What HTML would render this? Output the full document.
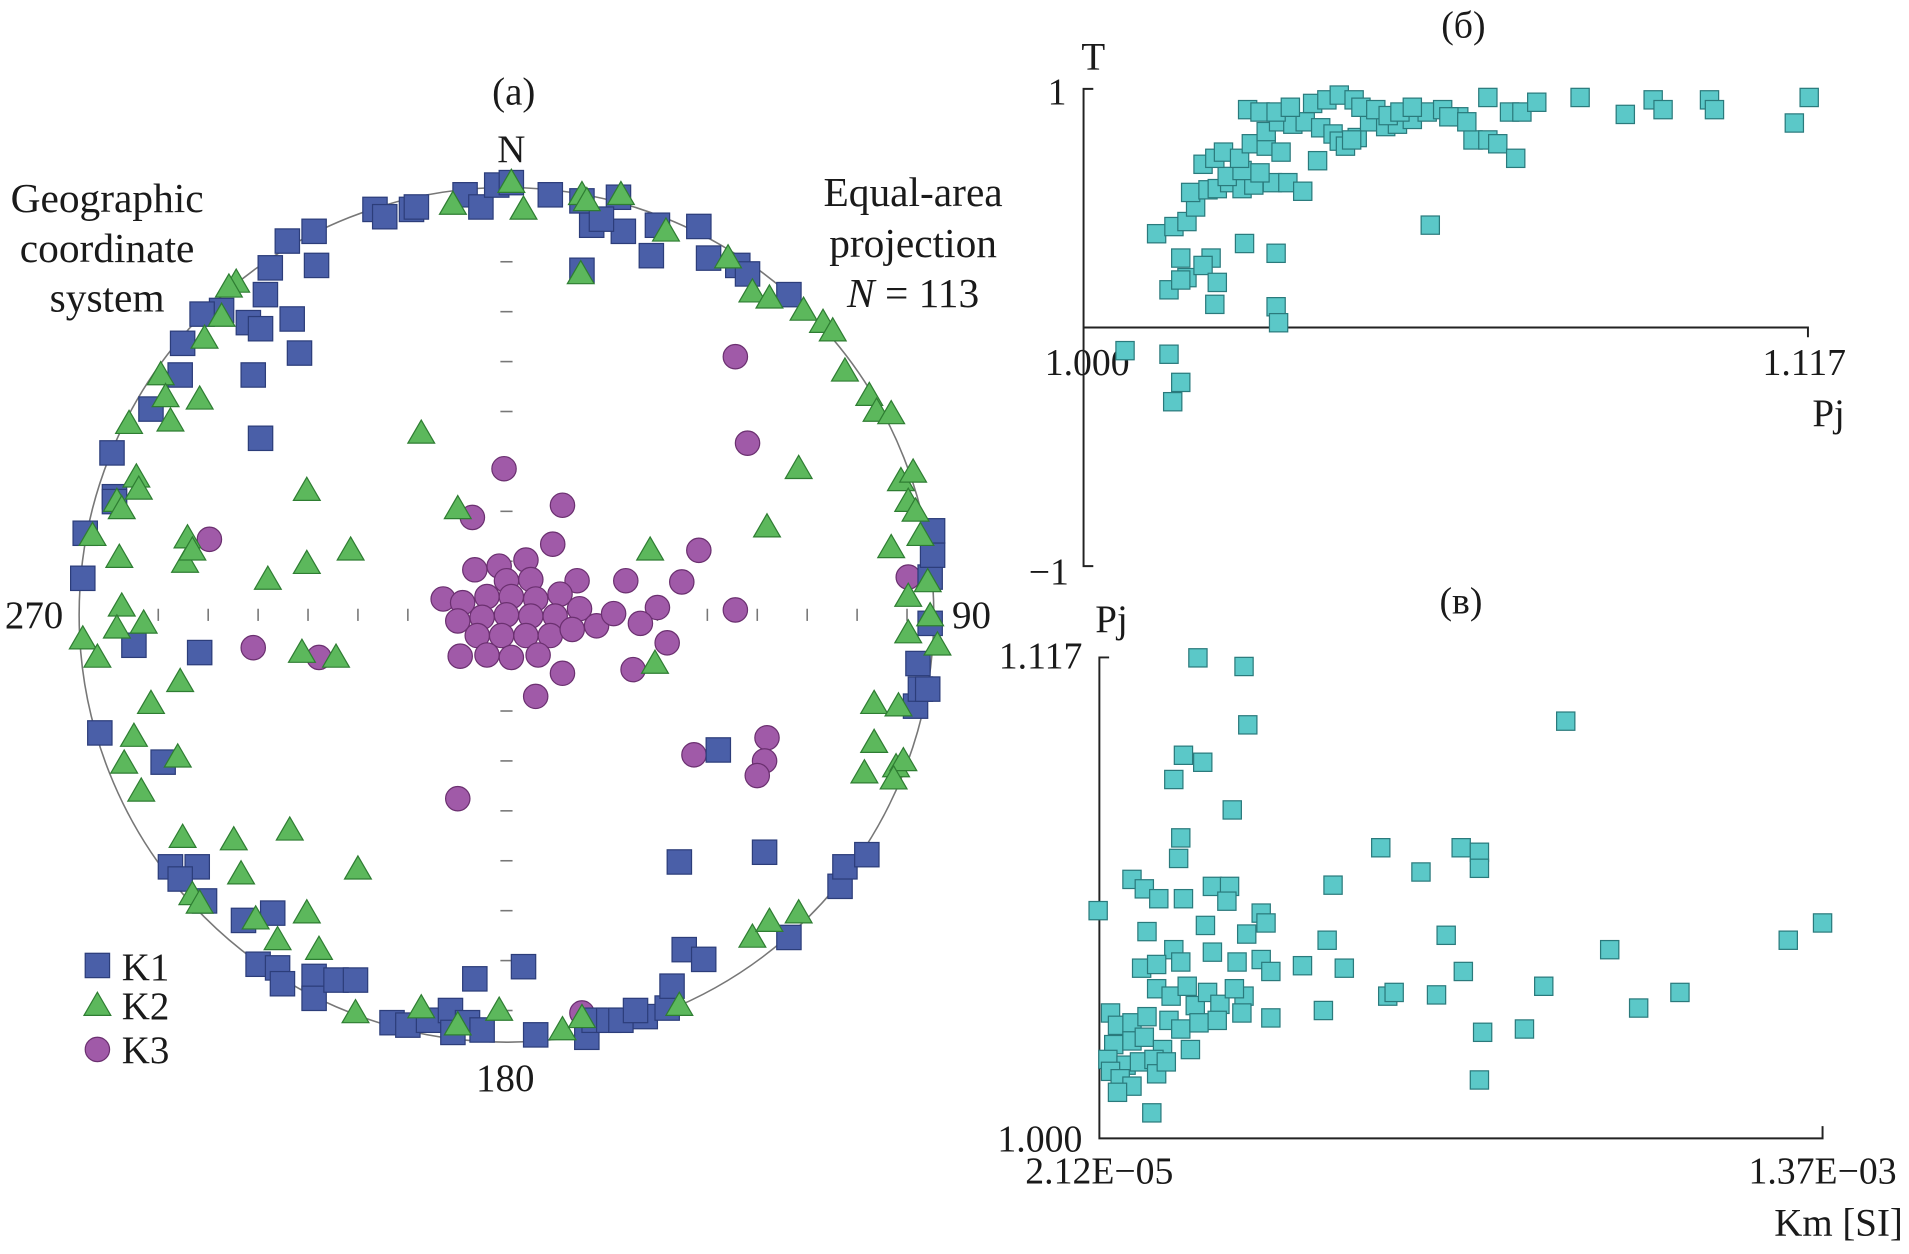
<!DOCTYPE html>
<html><head><meta charset="utf-8"><style>
html,body{margin:0;padding:0;background:#fff;}
svg{display:block;}
text{font-family:"Liberation Serif",serif;fill:#1a1a1a;}
</style></head><body>
<svg id="svg" width="1909" height="1254" viewBox="0 0 1568 1030" preserveAspectRatio="none" xmlns="http://www.w3.org/2000/svg">
<g>
<text x="422" y="86" font-size="32" text-anchor="middle">(a)</text>
<text x="420" y="133" font-size="32" text-anchor="middle">N</text>
<text x="88" y="174" font-size="34" text-anchor="middle">Geographic</text>
<text x="88" y="215" font-size="34" text-anchor="middle">coordinate</text>
<text x="88" y="256" font-size="34" text-anchor="middle">system</text>
<text x="750" y="169" font-size="34" text-anchor="middle">Equal-area</text>
<text x="750" y="211" font-size="34" text-anchor="middle">projection</text>
<text x="750" y="252" font-size="34" text-anchor="middle"><tspan font-style="italic">N</tspan> = 113</text>
<text x="28" y="516" font-size="32" text-anchor="middle">270</text>
<text x="798" y="516" font-size="32" text-anchor="middle">90</text>
<text x="415" y="896" font-size="32" text-anchor="middle">180</text>
<circle cx="416" cy="505" r="351" fill="none" stroke="#777" stroke-width="1.3"/>
<g id="crossTicks"></g>
<g id="stereo"></g>
<g>
<rect x="70" y="783" width="20" height="20" fill="#4a5fa8" stroke="#2c3d7a"/>
<text x="100" y="805" font-size="32">K1</text>
<polygon points="80,815 91,834 69,834" fill="#5cb85c" stroke="#2e7d32"/>
<text x="100" y="837" font-size="32">K2</text>
<circle cx="80" cy="862" r="10" fill="#a05aa8" stroke="#6b3070"/>
<text x="100" y="873" font-size="32">K3</text>
</g>
</g>
<g>
<text x="1202" y="31" font-size="31" text-anchor="middle">(б)</text>
<text x="898" y="57" font-size="32" text-anchor="middle">T</text>
<text x="876" y="86" font-size="31" text-anchor="end">1</text>
<text x="878" y="480" font-size="31" text-anchor="end">−1</text>
<text x="893" y="308" font-size="31" text-anchor="middle">1.000</text>
<text x="1482" y="308" font-size="31" text-anchor="middle">1.117</text>
<text x="1502" y="350" font-size="32" text-anchor="middle">Pj</text>
<g id="axB"></g>
<g id="ptsB"></g>
</g>
<g>
<text x="1200" y="504" font-size="31" text-anchor="middle">(в)</text>
<text x="913" y="519" font-size="32" text-anchor="middle">Pj</text>
<text x="889" y="549" font-size="31" text-anchor="end">1.117</text>
<text x="889" y="946" font-size="31" text-anchor="end">1.000</text>
<text x="903" y="972" font-size="31" text-anchor="middle">2.12E−05</text>
<text x="1497" y="972" font-size="31" text-anchor="middle">1.37E−03</text>
<text x="1563" y="1015" font-size="32" text-anchor="end">Km [SI]</text>
<g id="axC"></g>
<g id="ptsC"></g>
</g>
</svg>
<script>
// Stereonet projection coordinates (east, north) in projection units, rim = 351
const k1E=[-108,-100,-78,-74,-34,-21,-8,4,36,62,70,92,96,78,124,119,158,166,190,198,232,62,-158,-180,-194,-198,-156,-176,-212,-234,-250,-202,-266,-170,-208,-268,-292,-202,-324,-322,-322,-346,-348,-306,-252,-334,-282,-276,-254,-268,-248,-216,-192,-204,-188,-184,-158,-158,-140,-124,-94,-81,-64,-46,-44,-26,-32,-20,14,24,66,72,84,94,114,106,132,136,142,146,162,174,212,232,274,278,296,336,340,346,338,348,348,350,350];
const k1N=[333,327,333,335,345,335,353,355,345,340,320,343,315,325,320,295,319,293,287,280,263,283,315,307,285,263,287,243,240,250,247,235,223,215,197,197,169,145,133,97,93,67,30,-25,-31,-97,-121,-207,-207,-217,-235,-251,-245,-287,-290,-303,-297,-315,-300,-300,-335,-337,-333,-325,-343,-299,-335,-341,-289,-345,-347,-333,-333,-333,-330,-325,-323,-305,-203,-275,-283,-111,-195,-265,-223,-207,-197,-75,-61,-61,-40,-7,31,49,69];
const k2E=[-44,4,14,62,66,94,131,61,182,202,216,244,260,268,278,298,304,316,-70,-222,-228,-234,-248,-284,-280,-252,-276,-310,-304,-302,-320,-316,-164,-40,-128,-164,-196,-262,-264,-258,-340,-318,-316,-298,-320,-348,-336,-268,-292,-306,-314,-270,-300,-168,-140,118,122,214,240,324,334,330,336,340,316,330,346,348,330,354,302,322,302,294,320,326,318,-266,-224,-178,-122,-218,-258,-252,-206,-164,-188,-154,-124,-70,-40,-6,46,62,142,202,216,240];
const k2N=[337,355,333,345,340,345,315,280,293,265,260,250,240,233,200,180,167,165,149,273,269,245,227,197,179,177,159,157,113,103,93,87,102,87,53,42,29,63,43,53,65,47,7,-7,-11,-20,-35,-55,-73,-100,-122,-117,-145,-31,-35,53,-40,72,120,110,117,93,85,65,55,15,27,-1,-15,-25,-73,-75,-105,-130,-125,-120,-135,-183,-185,-177,-209,-213,-230,-237,-250,-245,-267,-275,-327,-323,-337,-325,-341,-331,-321,-265,-252,-245];
const k3E=[188,198,-2,46,-28,-244,38,16,-6,-26,0,20,58,98,158,144,124,188,330,-52,-36,-16,4,24,44,-40,-20,0,20,40,60,74,88,110,-24,-4,16,36,54,-38,-16,4,26,46,104,132,24,-208,-154,154,214,212,206,-40,62];
const k3N=[212,141,120,90,80,62,58,45,40,37,28,29,28,28,53,27,6,4,31,13,10,15,15,13,17,-5,-2,0,-1,-1,5,-9,1,-7,-17,-17,-17,-17,-12,-34,-33,-35,-33,-48,-45,-23,-67,-27,-35,-115,-101,-120,-132,-151,-327];
// Panel б: Pj vs T
const bPj=[1.0067,1.0138,1.0157,1.0144,1.0118,1.0146,1.0167,1.0181,1.0173,1.0201,1.0216,1.0236,1.0256,1.0275,1.0305,1.0330,1.0354,1.0232,1.0256,1.0285,1.0193,1.0212,1.0226,1.0252,1.0271,1.0295,1.0319,1.0295,1.0315,1.0338,1.0358,1.0383,1.0403,1.0413,1.0423,1.0442,1.0462,1.0488,1.0507,1.0531,1.0555,1.0580,1.0606,1.0629,1.0653,1.0669,1.0698,1.0688,1.0708,1.0732,1.0653,1.0802,1.0875,1.0920,1.0936,1.1011,1.1019,1.1148,1.1172,1.0560,1.0311,1.0260,1.0206,1.0157,1.0167,1.0193,1.0216,1.0138,1.0157,1.0212,1.0311,1.0315,1.0265,1.0285,1.0311,1.0334,1.0370,1.0393,1.0413,1.0437,1.0448,1.0472,1.0492,1.0511,1.0531,1.0590,1.0619,1.0378,1.0433];
const bT=[-0.097,-0.112,-0.230,-0.311,0.393,0.423,0.444,0.505,0.566,0.577,0.582,0.607,0.582,0.597,0.607,0.607,0.571,0.633,0.658,0.648,0.684,0.709,0.735,0.709,0.770,0.760,0.735,0.821,0.862,0.852,0.862,0.837,0.811,0.781,0.760,0.796,0.862,0.842,0.852,0.872,0.903,0.913,0.883,0.786,0.786,0.770,0.709,0.903,0.903,0.944,0.964,0.964,0.893,0.954,0.913,0.954,0.913,0.857,0.964,0.429,0.311,0.352,0.291,0.291,0.209,0.260,0.189,0.158,0.199,0.097,0.087,0.020,0.913,0.903,0.903,0.923,0.939,0.954,0.974,0.954,0.923,0.913,0.888,0.903,0.923,0.883,0.862,0.699,0.786];
// Panel в: Km (×1e-5 SI) vs Pj
const cKm=[1.89,20.5,29.1,29.8,89.1,17.8,21.4,16.0,26.9,17.3,16.9,54.6,62.1,69.6,73.0,73.0,45.7,8.2,10.5,13.2,17.8,23.2,26.4,25.9,32.3,33.2,29.6,11.0,16.0,21.9,44.6,66.8,97.3,130.6,137.0,10.0,12.8,17.3,23.2,27.8,32.3,34.1,40.0,47.8,70.0,85.0,110.4,102.7,65.0,55.9,57.1,43.9,34.1,29.1,28.7,12.8,15.5,18.5,20.0,22.3,24.6,27.3,4.2,5.5,8.2,11.0,15.1,17.3,20.7,24.1,4.8,8.2,10.5,13.9,19.1,3.7,7.1,9.6,12.3,4.2,6.0,8.2,12.8,14.6,73.6,81.4,73.0,11.9,5.5];
const cPj=[1.0554,1.1169,1.1148,1.1006,1.1015,1.0932,1.0915,1.0873,1.0799,1.0731,1.0681,1.0707,1.0648,1.0707,1.0696,1.0657,1.0616,1.0630,1.0607,1.0583,1.0583,1.0613,1.0613,1.0577,1.0548,1.0524,1.0497,1.0503,1.0459,1.0518,1.0482,1.0494,1.0459,1.0482,1.0524,1.0414,1.0423,1.0429,1.0453,1.0429,1.0435,1.0406,1.0420,1.0414,1.0406,1.0370,1.0355,1.0317,1.0349,1.0346,1.0355,1.0311,1.0293,1.0346,1.0305,1.0364,1.0346,1.0370,1.0323,1.0355,1.0326,1.0364,1.0305,1.0275,1.0281,1.0296,1.0287,1.0266,1.0281,1.0287,1.0228,1.0237,1.0246,1.0216,1.0216,1.0192,1.0178,1.0186,1.0192,1.0163,1.0145,1.0127,1.0157,1.0186,1.0258,1.0266,1.0142,1.0062,1.0112];

const NS='http://www.w3.org/2000/svg';
function mk(tag,attrs,parent){const e=document.createElementNS(NS,tag);for(const k in attrs)e.setAttribute(k,attrs[k]);parent.appendChild(e);return e;}
const CX=416,CY=505;
const sx=e=>CX+e, sy=n=>CY-n;
const ct=document.getElementById('crossTicks');
for(let x=130;x<=750;x+=41){if(Math.abs(x-CX)<30)continue;const l=mk('line',{x1:x,y1:CY-5,x2:x,y2:CY+5,stroke:'#777','stroke-width':1.3},ct);

}
for(let y=215;y<=840;y+=41){if(Math.abs(y-CY)<30)continue;const l=mk('line',{x1:CX-5,y1:y,x2:CX+5,y2:y,stroke:'#777','stroke-width':1.3},ct);

}
const st=document.getElementById('stereo');
for(let i=0;i<k3E.length;i++){const c=mk('circle',{cx:sx(k3E[i]),cy:sy(k3N[i]),r:10,fill:'#a05aa8',stroke:'#6b3070','stroke-width':1},st);

}
for(let i=0;i<k1E.length;i++){const x=sx(k1E[i]),y=sy(k1N[i]);const r=mk('rect',{x:x-10,y:y-10,width:20,height:20,fill:'#4a5fa8',stroke:'#2c3d7a','stroke-width':1},st);

}
for(let i=0;i<k2E.length;i++){const x=sx(k2E[i]),y=sy(k2N[i]);const p=mk('polygon',{points:`${x},${y-11} ${x+11},${y+8} ${x-11},${y+8}`,fill:'#5cb85c',stroke:'#2e7d32','stroke-width':1},st);

}
const bx=v=>890+(v-1.000)/0.117*595, by=v=>269-v*196;
const axB=document.getElementById('axB');
const pb=mk('path',{d:`M898,${by(1)} H890 V${by(-1)} H898 M890,${by(0)} H${bx(1.117)} V${by(0)+8}`,fill:'none',stroke:'#222','stroke-width':1.6},axB);


const ptsB=document.getElementById('ptsB');
for(let i=0;i<bPj.length;i++){const x=bx(bPj[i]),y=by(bT[i]);const r=mk('rect',{x:x-7.5,y:y-7.5,width:15,height:15,fill:'#5bc8c8',stroke:'#2a7a7c','stroke-width':1},ptsB);

}
const cx=v=>903+(v-2.12)/(137-2.12)*594, cy=v=>935-(v-1.000)/0.117*395;
const axC=document.getElementById('axC');
const pc=mk('path',{d:`M911,${cy(1.117)} H903 V${cy(1)} H${cx(137)} V${cy(1)-10}`,fill:'none',stroke:'#222','stroke-width':1.6},axC);


const ptsC=document.getElementById('ptsC');
for(let i=0;i<cKm.length;i++){const x=cx(cKm[i]),y=cy(cPj[i]);const r=mk('rect',{x:x-7.5,y:y-7.5,width:15,height:15,fill:'#5bc8c8',stroke:'#2a7a7c','stroke-width':1},ptsC);

}
</script>
</body></html>
